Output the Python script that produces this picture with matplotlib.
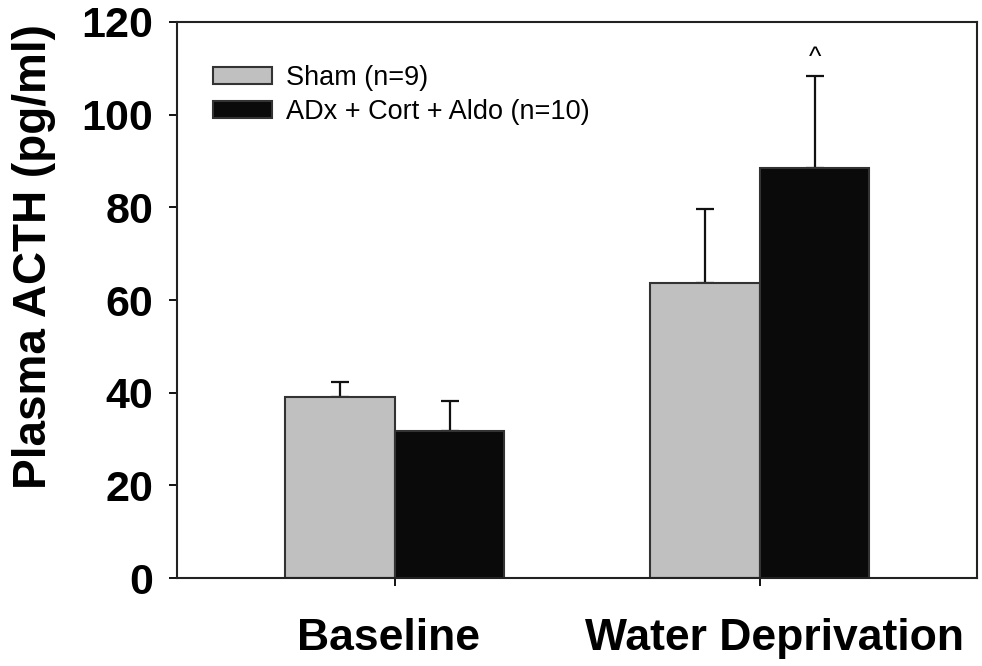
import numpy as np
import matplotlib
matplotlib.use('Agg')
import matplotlib.pyplot as plt
import matplotlib.transforms as mtransforms
from matplotlib.patches import Patch

plt.rcParams['font.family'] = ['Liberation Sans', 'DejaVu Sans']

# 血浆ACTH：各组均值与SEM（仅画上侧误差）
groups = ['Baseline', 'Water Deprivation']
series = ['Sham (n=9)', 'ADx + Cort + Aldo (n=10)']
sham_mean = [39.0, 63.7]
sham_sem = [3.4, 15.9]
adx_mean = [31.7, 88.4]
adx_sem = [6.5, 20.0]
colors = ['#c0c0c0', '#0a0a0a']
yticks = [0, 20, 40, 60, 80, 100, 120]

fig = plt.figure(figsize=(9.82, 6.66), dpi=100)
ax = fig.add_axes([0.180, 0.132, 0.815, 0.835])

x = np.arange(len(groups))
w = 0.3
means = [sham_mean, adx_mean]
sems = [sham_sem, adx_sem]
for i in range(2):
    pos = x - w / 2 + i * w
    ax.bar(pos, means[i], w, color=colors[i], edgecolor='#333333',
           linewidth=1.5, label=series[i], zorder=2)
    ax.errorbar(pos, means[i], yerr=[np.zeros(len(groups)), sems[i]],
                fmt='none', ecolor='#111111', elinewidth=1.6,
                capsize=6.5, capthick=1.6, zorder=1)

# 标注显著性
top = adx_mean[1] + adx_sem[1]
ax.annotate('^', (x[1] + w / 2, top), xytext=(0, 4), textcoords='offset points',
            ha='center', va='bottom', fontsize=19)

ax.set_xlim(-0.597, 1.595)
ax.set_ylim(0, 120)
ax.set_yticks(yticks)
ax.set_xticks(x)
ax.set_xticklabels(groups, fontsize=32, fontweight='bold')
ax.tick_params(axis='y', direction='out', length=6, width=1.3,
               labelsize=31, pad=11)
ax.tick_params(axis='x', direction='out', length=6, width=1.3, pad=23)
for lab in ax.get_yticklabels():
    lab.set_fontweight('bold')
# 两个分类标签稍微左右错开
for lab, dx in zip(ax.get_xticklabels(), [-6, 15]):
    lab.set_transform(lab.get_transform() +
                      mtransforms.ScaledTranslation(dx / 100, 0, fig.dpi_scale_trans))
for s in ax.spines.values():
    s.set_linewidth(1.5)
    s.set_color('#222222')

ax.set_ylabel('Plasma ACTH (pg/ml)', fontsize=33, fontweight='bold')
ax.yaxis.set_label_coords(-0.151, 0.579)

handles = [Patch(facecolor=colors[0], edgecolor='#333333', linewidth=1.5),
           Patch(facecolor=colors[1], edgecolor='#333333', linewidth=1.5)]
ax.legend(handles, series, loc='upper left', bbox_to_anchor=(0.045, 0.922),
          frameon=False, fontsize=19.5, handlelength=2.2, handleheight=0.6,
          handletextpad=0.5, labelspacing=0.28, borderpad=0, borderaxespad=0)

fig.savefig('out.png', dpi=100)
